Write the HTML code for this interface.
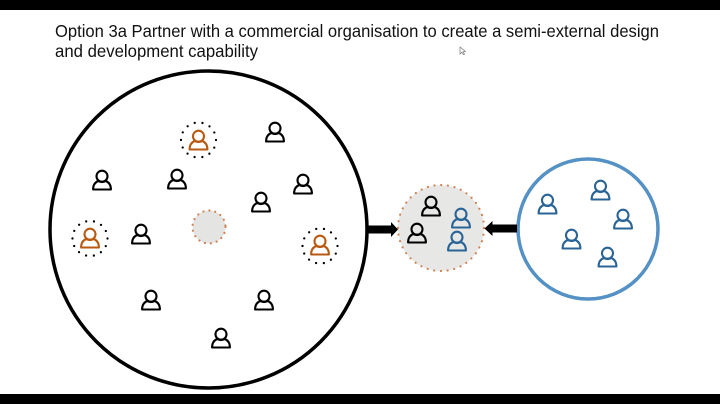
<!DOCTYPE html>
<html><head><meta charset="utf-8"><style>html,body{margin:0;padding:0;background:#fff}svg{display:block}text{font-family:"Liberation Sans",sans-serif;font-size:17.500px;fill:#111}</style></head><body>
<svg width="720" height="404" viewBox="0 0 720 404" xmlns="http://www.w3.org/2000/svg">
<defs>
<g id="p" fill="none" stroke-linejoin="round"><circle cx="0" cy="-4.8" r="5.500"/><path d="M-8.900 8.500H8.900C8.900 3.500 7 1.300 3.800 0C1.500 1.300-1.500 1.300-3.800 0C-7 1.300-8.900 3.500-8.900 8.500Z"/></g>
</defs>
<rect width="720" height="404" fill="#fff"/>
<rect width="720" height="10" fill="#000"/>
<rect y="394" width="720" height="10" fill="#000"/>
<text x="55" y="37" textLength="604" lengthAdjust="spacingAndGlyphs">Option 3a Partner with a commercial organisation to create a semi-external design</text>
<text x="55" y="57" textLength="203" lengthAdjust="spacingAndGlyphs">and development capability</text>
<path d="M460 47v7l2-1.800 1.500 2.500 1-.6-1.300-2.400 2.300-.2z" fill="#fff" stroke="#777" stroke-width=".7"/>
<circle cx="208.500" cy="229.500" r="158.500" fill="#fff" stroke="#000" stroke-width="3.500"/>
<circle cx="588" cy="229" r="70" fill="#fff" stroke="#5491c4" stroke-width="3.500"/>
<circle cx="209" cy="227" r="16.500" fill="#e4e4e2" stroke="#cf7f52" stroke-width="2.200" stroke-linecap="round" stroke-dasharray="0 6.000"/>
<circle cx="441" cy="228" r="43" fill="#e7e7e5" stroke="#cf7f52" stroke-width="2.200" stroke-linecap="round" stroke-dasharray="0 6.750"/>
<g stroke="#000" stroke-width="2.300" stroke-linecap="round" fill="none" stroke-dasharray="0 7.850">
<circle cx="198.500" cy="140" r="17.500"/><circle cx="90" cy="238.500" r="17.500"/><circle cx="320" cy="246" r="17.500"/>
</g>
<path d="M367 225.500h24v-3.500l7 7.500-7 7.500v-3.500h-24z" fill="#000"/>
<path d="M517 224.500h-24.500v-3.500l-8 7.500 8 7.500v-3.500h24.500z" fill="#000"/>
<g stroke="#000" stroke-width="2.100">
<use href="#p" x="275" y="133"/><use href="#p" x="102" y="181"/><use href="#p" x="177" y="180"/><use href="#p" x="261" y="203"/><use href="#p" x="303" y="185"/><use href="#p" x="141" y="235"/><use href="#p" x="151" y="301"/><use href="#p" x="264" y="301"/><use href="#p" x="221" y="339"/><use href="#p" x="431" y="207"/><use href="#p" x="417" y="234"/>
</g>
<g stroke="#b95a12" stroke-width="2.100">
<use href="#p" x="198.500" y="141"/><use href="#p" x="90" y="239"/><use href="#p" x="320" y="246"/>
</g>
<g stroke="#2a6496" stroke-width="2.100">
<use href="#p" x="461" y="219"/><use href="#p" x="457" y="242"/><use href="#p" x="547.500" y="205"/><use href="#p" x="600.500" y="191"/><use href="#p" x="623" y="220"/><use href="#p" x="571.500" y="240"/><use href="#p" x="607.500" y="258"/>
</g>
</svg>
</body></html>
